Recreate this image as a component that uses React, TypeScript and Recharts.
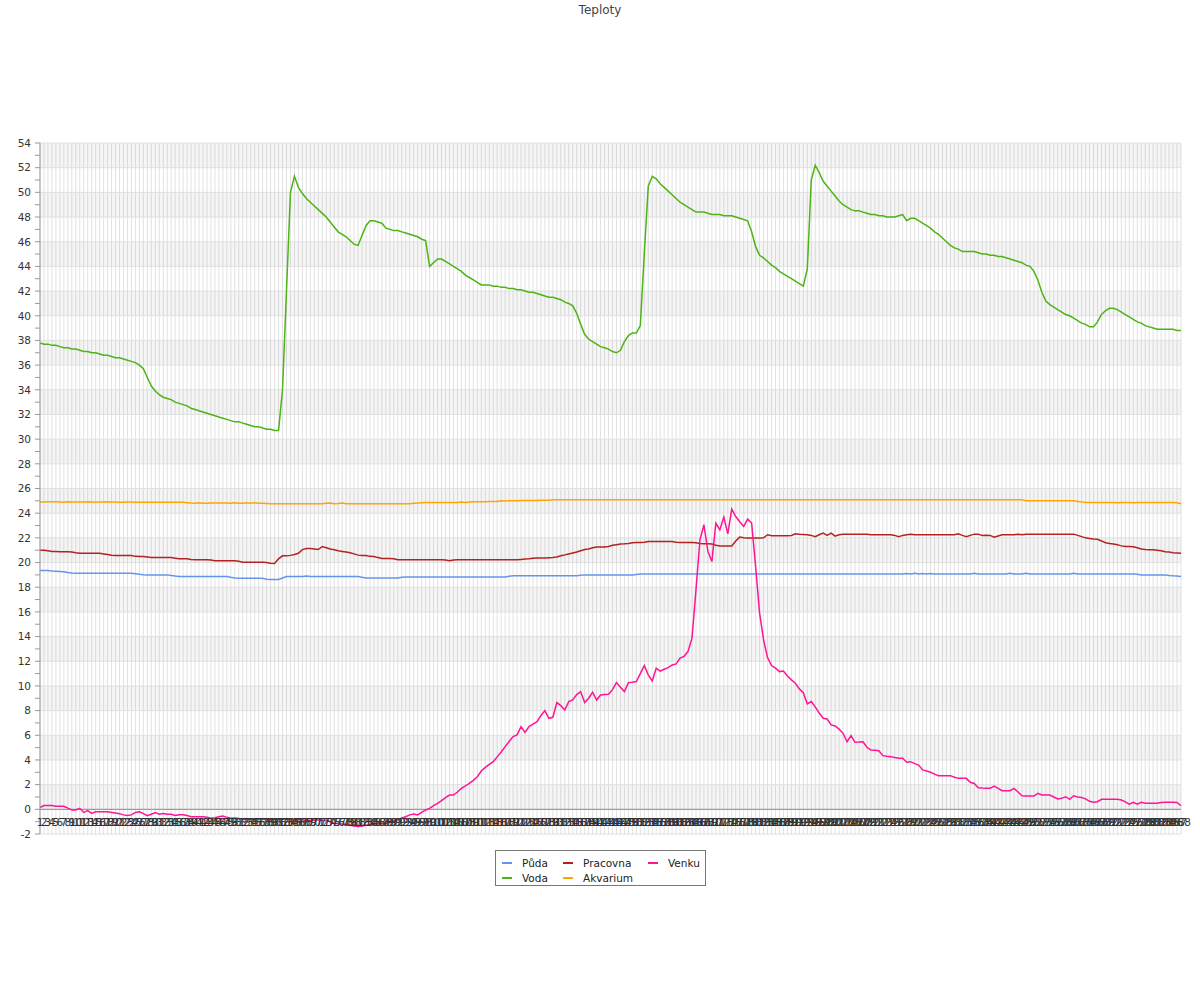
import React from 'react';
import { LineChart, Line, XAxis, YAxis, CartesianGrid, ReferenceArea, ReferenceLine } from 'recharts';

const FONT = '"DejaVu Sans", Verdana, sans-serif';

// 288 samples (every 5 minutes), labelled 1..288
const xLabels = Array.from({ length: 288 }, (_, i) => String(i + 1));

const yTicks = [
  -2, -1, 0, 1, 2, 3, 4, 5, 6, 7, 8, 9, 10, 11, 12, 13, 14, 15, 16, 17, 18, 19, 20, 21, 22, 23, 24, 25, 26, 27, 28,
  29, 30, 31, 32, 33, 34, 35, 36, 37, 38, 39, 40, 41, 42, 43, 44, 45, 46, 47, 48, 49, 50, 51, 52, 53, 54,
];
const gridLevels = [-2, 0, 2, 4, 6, 8, 10, 12, 14, 16, 18, 20, 22, 24, 26, 28, 30, 32, 34, 36, 38, 40, 42, 44, 46, 48, 50, 52, 54];
const shadedBands = [0, 4, 8, 12, 16, 20, 24, 28, 32, 36, 40, 44, 48, 52];

const puda = [
  19.35, 19.35, 19.35, 19.32, 19.3, 19.28, 19.25, 19.2, 19.15, 19.14,
  19.14, 19.14, 19.14, 19.14, 19.14, 19.14, 19.14, 19.14, 19.14, 19.14,
  19.14, 19.14, 19.14, 19.14, 19.1, 19.05, 19.02, 19.0, 19.0, 19.0,
  19.0, 19.0, 19.0, 18.95, 18.9, 18.86, 18.86, 18.86, 18.86, 18.86,
  18.86, 18.86, 18.86, 18.86, 18.86, 18.86, 18.86, 18.86, 18.8, 18.75,
  18.73, 18.73, 18.73, 18.73, 18.73, 18.73, 18.73, 18.65, 18.62, 18.62,
  18.62, 18.75, 18.86, 18.86, 18.86, 18.86, 18.86, 18.9, 18.86, 18.86,
  18.86, 18.86, 18.86, 18.86, 18.86, 18.86, 18.86, 18.86, 18.86, 18.86,
  18.86, 18.8, 18.75, 18.75, 18.75, 18.75, 18.75, 18.75, 18.75, 18.75,
  18.75, 18.8, 18.82, 18.82, 18.82, 18.82, 18.82, 18.82, 18.82, 18.82,
  18.82, 18.82, 18.82, 18.82, 18.82, 18.82, 18.82, 18.82, 18.82, 18.82,
  18.82, 18.82, 18.82, 18.82, 18.82, 18.82, 18.82, 18.82, 18.88, 18.92,
  18.92, 18.92, 18.92, 18.92, 18.92, 18.92, 18.92, 18.92, 18.92, 18.92,
  18.92, 18.92, 18.92, 18.92, 18.92, 18.92, 18.96, 19.0, 19.0, 19.0,
  19.0, 19.0, 19.0, 19.0, 19.0, 19.0, 19.0, 19.0, 19.0, 19.0,
  19.04, 19.08, 19.08, 19.08, 19.08, 19.08, 19.08, 19.08, 19.08, 19.08,
  19.08, 19.08, 19.08, 19.08, 19.08, 19.08, 19.08, 19.08, 19.08, 19.08,
  19.08, 19.08, 19.08, 19.08, 19.08, 19.08, 19.08, 19.08, 19.08, 19.08,
  19.08, 19.08, 19.08, 19.08, 19.08, 19.08, 19.08, 19.08, 19.08, 19.08,
  19.08, 19.08, 19.08, 19.08, 19.08, 19.08, 19.08, 19.08, 19.08, 19.08,
  19.08, 19.08, 19.08, 19.08, 19.08, 19.08, 19.08, 19.08, 19.08, 19.08,
  19.08, 19.08, 19.08, 19.08, 19.08, 19.08, 19.08, 19.08, 19.12, 19.08,
  19.14, 19.08, 19.12, 19.08, 19.12, 19.08, 19.08, 19.08, 19.08, 19.08,
  19.08, 19.08, 19.08, 19.08, 19.08, 19.14, 19.08, 19.08, 19.08, 19.08,
  19.08, 19.08, 19.08, 19.08, 19.14, 19.08, 19.08, 19.08, 19.14, 19.08,
  19.08, 19.08, 19.08, 19.08, 19.08, 19.08, 19.08, 19.08, 19.08, 19.08,
  19.14, 19.08, 19.08, 19.08, 19.08, 19.08, 19.08, 19.08, 19.08, 19.08,
  19.08, 19.08, 19.08, 19.08, 19.08, 19.08, 19.05, 19.0, 19.0, 19.0,
  19.0, 19.0, 19.0, 19.0, 18.95, 18.92, 18.9, 18.86,
];

const voda = [
  37.8, 37.7, 37.7, 37.6, 37.6, 37.5, 37.4, 37.4, 37.3, 37.3,
  37.2, 37.1, 37.1, 37.0, 37.0, 36.9, 36.8, 36.8, 36.7, 36.6,
  36.6, 36.5, 36.4, 36.3, 36.2, 36.0, 35.7, 35.0, 34.3, 33.9,
  33.6, 33.4, 33.3, 33.2, 33.0, 32.9, 32.8, 32.7, 32.5, 32.4,
  32.3, 32.2, 32.1, 32.0, 31.9, 31.8, 31.7, 31.6, 31.5, 31.4,
  31.4, 31.3, 31.2, 31.1, 31.0, 31.0, 30.9, 30.8, 30.8, 30.7,
  30.7, 34.0, 42.0, 50.0, 51.3, 50.4, 49.9, 49.5, 49.2, 48.9,
  48.6, 48.3, 48.0, 47.6, 47.2, 46.8, 46.6, 46.4, 46.1, 45.8,
  45.7, 46.5, 47.3, 47.7, 47.7, 47.6, 47.5, 47.1, 47.0, 46.9,
  46.9, 46.8, 46.7, 46.6, 46.5, 46.4, 46.2, 46.1, 44.0, 44.3,
  44.6, 44.6, 44.4, 44.2, 44.0, 43.8, 43.6, 43.3, 43.1, 42.9,
  42.7, 42.5, 42.5, 42.5, 42.4, 42.4, 42.3, 42.3, 42.2, 42.2,
  42.1, 42.1, 42.0, 41.9, 41.9, 41.8, 41.7, 41.6, 41.5, 41.5,
  41.4, 41.3, 41.1, 41.0, 40.8, 40.2, 39.3, 38.5, 38.1, 37.9,
  37.7, 37.5, 37.4, 37.3, 37.1, 37.0, 37.2, 37.9, 38.4, 38.6,
  38.6, 39.2, 45.0, 50.5, 51.3, 51.1, 50.7, 50.4, 50.1, 49.8,
  49.5, 49.2, 49.0, 48.8, 48.6, 48.4, 48.4, 48.4, 48.3, 48.2,
  48.2, 48.2, 48.1, 48.1, 48.1, 48.0, 47.9, 47.8, 47.7, 46.8,
  45.6, 44.9, 44.7, 44.4, 44.1, 43.9, 43.6, 43.4, 43.2, 43.0,
  42.8, 42.6, 42.4, 43.8, 51.0, 52.2, 51.6, 50.9, 50.5, 50.1,
  49.7, 49.3, 49.0, 48.8, 48.6, 48.5, 48.5, 48.4, 48.3, 48.2,
  48.2, 48.1, 48.1, 48.0, 48.0, 48.0, 48.1, 48.2, 47.7, 47.9,
  47.9, 47.7, 47.5, 47.3, 47.1, 46.8, 46.6, 46.3, 46.0, 45.7,
  45.5, 45.4, 45.2, 45.2, 45.2, 45.2, 45.1, 45.0, 45.0, 44.9,
  44.9, 44.8, 44.8, 44.7, 44.6, 44.5, 44.4, 44.3, 44.1, 44.0,
  43.6, 42.9, 41.9, 41.2, 40.9, 40.7, 40.5, 40.3, 40.1, 40.0,
  39.8, 39.6, 39.4, 39.3, 39.1, 39.1, 39.5, 40.1, 40.4, 40.6,
  40.6, 40.5, 40.3, 40.1, 39.9, 39.7, 39.5, 39.4, 39.2, 39.1,
  39.0, 38.9, 38.9, 38.9, 38.9, 38.9, 38.8, 38.8,
];

const pracovna = [
  21.0, 21.0, 20.95, 20.9, 20.9, 20.87, 20.87, 20.87, 20.85, 20.8,
  20.76, 20.76, 20.76, 20.76, 20.76, 20.75, 20.7, 20.65, 20.6, 20.57,
  20.57, 20.57, 20.57, 20.57, 20.5, 20.49, 20.49, 20.45, 20.4, 20.4,
  20.4, 20.4, 20.4, 20.4, 20.35, 20.3, 20.3, 20.3, 20.25, 20.22,
  20.22, 20.22, 20.22, 20.2, 20.14, 20.14, 20.14, 20.14, 20.14, 20.14,
  20.1, 20.03, 20.03, 20.03, 20.03, 20.03, 20.03, 20.0, 19.95, 19.92,
  20.3, 20.54, 20.54, 20.58, 20.65, 20.75, 21.05, 21.13, 21.13, 21.1,
  21.05, 21.3, 21.2, 21.1, 21.03, 20.95, 20.9, 20.85, 20.8, 20.7,
  20.6, 20.57, 20.57, 20.5, 20.49, 20.4, 20.32, 20.32, 20.32, 20.3,
  20.22, 20.22, 20.22, 20.22, 20.22, 20.22, 20.22, 20.22, 20.22, 20.22,
  20.22, 20.22, 20.2, 20.15, 20.2, 20.22, 20.22, 20.22, 20.22, 20.22,
  20.22, 20.22, 20.22, 20.22, 20.22, 20.22, 20.22, 20.22, 20.22, 20.22,
  20.22, 20.25, 20.28, 20.3, 20.35, 20.36, 20.36, 20.36, 20.38, 20.4,
  20.45, 20.55, 20.62, 20.7, 20.78, 20.85, 20.95, 21.05, 21.1, 21.2,
  21.25, 21.25, 21.25, 21.3, 21.4, 21.45, 21.5, 21.52, 21.55, 21.6,
  21.62, 21.62, 21.65, 21.7, 21.7, 21.7, 21.7, 21.7, 21.7, 21.7,
  21.65, 21.62, 21.62, 21.62, 21.62, 21.6, 21.55, 21.52, 21.52, 21.5,
  21.4, 21.35, 21.35, 21.35, 21.35, 21.75, 22.06, 22.0, 21.98, 21.98,
  21.98, 21.98, 22.0, 22.25, 22.17, 22.17, 22.17, 22.17, 22.17, 22.2,
  22.33, 22.3, 22.28, 22.25, 22.2, 22.1, 22.25, 22.38, 22.2, 22.38,
  22.14, 22.25, 22.3, 22.3, 22.3, 22.3, 22.3, 22.3, 22.3, 22.25,
  22.25, 22.25, 22.25, 22.25, 22.25, 22.2, 22.1, 22.2, 22.25, 22.3,
  22.25, 22.25, 22.25, 22.25, 22.25, 22.25, 22.25, 22.25, 22.25, 22.25,
  22.25, 22.33, 22.2, 22.1, 22.2, 22.3, 22.3, 22.2, 22.22, 22.2,
  22.05, 22.15, 22.25, 22.25, 22.25, 22.25, 22.3, 22.25, 22.3, 22.3,
  22.3, 22.3, 22.3, 22.3, 22.3, 22.3, 22.3, 22.3, 22.3, 22.3,
  22.3, 22.2, 22.1, 22.0, 21.95, 21.9, 21.88, 21.75, 21.6, 21.55,
  21.5, 21.45, 21.35, 21.3, 21.3, 21.28, 21.2, 21.1, 21.05, 21.03,
  21.03, 21.0, 20.95, 20.87, 20.85, 20.8, 20.78, 20.76,
];

const akvarium = [
  24.9, 24.9, 24.92, 24.92, 24.92, 24.9, 24.88, 24.92, 24.9, 24.9,
  24.9, 24.9, 24.92, 24.9, 24.88, 24.9, 24.9, 24.92, 24.9, 24.9,
  24.88, 24.88, 24.9, 24.9, 24.88, 24.88, 24.88, 24.88, 24.88, 24.88,
  24.88, 24.88, 24.88, 24.88, 24.88, 24.88, 24.88, 24.85, 24.82, 24.8,
  24.85, 24.8, 24.8, 24.82, 24.82, 24.82, 24.82, 24.82, 24.8, 24.85,
  24.8, 24.8, 24.85, 24.8, 24.85, 24.8, 24.8, 24.78, 24.76, 24.76,
  24.76, 24.76, 24.76, 24.76, 24.76, 24.76, 24.76, 24.76, 24.76, 24.76,
  24.76, 24.76, 24.8, 24.82, 24.76, 24.78, 24.82, 24.76, 24.76, 24.76,
  24.76, 24.76, 24.76, 24.76, 24.76, 24.76, 24.76, 24.76, 24.76, 24.76,
  24.76, 24.76, 24.76, 24.76, 24.8, 24.82, 24.85, 24.87, 24.87, 24.87,
  24.87, 24.87, 24.87, 24.87, 24.87, 24.87, 24.9, 24.87, 24.9, 24.92,
  24.92, 24.92, 24.92, 24.95, 24.95, 24.95, 25.0, 24.98, 25.0, 25.0,
  25.0, 25.02, 25.02, 25.02, 25.02, 25.02, 25.05, 25.05, 25.05, 25.08,
  25.08, 25.08, 25.08, 25.08, 25.08, 25.08, 25.08, 25.08, 25.08, 25.08,
  25.08, 25.08, 25.08, 25.08, 25.08, 25.08, 25.08, 25.08, 25.08, 25.08,
  25.08, 25.08, 25.08, 25.08, 25.08, 25.08, 25.08, 25.08, 25.08, 25.08,
  25.08, 25.08, 25.08, 25.08, 25.08, 25.08, 25.08, 25.08, 25.08, 25.08,
  25.08, 25.08, 25.08, 25.08, 25.08, 25.08, 25.08, 25.08, 25.08, 25.08,
  25.08, 25.08, 25.08, 25.08, 25.08, 25.08, 25.08, 25.08, 25.08, 25.08,
  25.08, 25.08, 25.08, 25.08, 25.08, 25.08, 25.08, 25.08, 25.08, 25.08,
  25.08, 25.08, 25.08, 25.08, 25.08, 25.08, 25.08, 25.08, 25.08, 25.08,
  25.08, 25.08, 25.08, 25.08, 25.08, 25.08, 25.08, 25.08, 25.08, 25.08,
  25.08, 25.08, 25.08, 25.08, 25.08, 25.08, 25.08, 25.08, 25.08, 25.08,
  25.08, 25.08, 25.08, 25.08, 25.08, 25.08, 25.08, 25.08, 25.08, 25.08,
  25.08, 25.08, 25.08, 25.08, 25.08, 25.08, 25.08, 25.08, 25.0, 25.0,
  25.0, 25.0, 25.0, 25.0, 25.0, 25.0, 25.0, 25.0, 25.0, 25.0,
  25.0, 24.95, 24.9, 24.88, 24.87, 24.87, 24.87, 24.87, 24.87, 24.87,
  24.87, 24.85, 24.87, 24.87, 24.87, 24.85, 24.87, 24.87, 24.87, 24.87,
  24.87, 24.87, 24.87, 24.87, 24.87, 24.87, 24.85, 24.76,
];

const venku = [
  0.15, 0.3, 0.3, 0.3, 0.25, 0.25, 0.25, 0.1, -0.05, -0.05,
  0.08, -0.25, -0.1, -0.33, -0.2, -0.2, -0.2, -0.2, -0.25, -0.3,
  -0.35, -0.45, -0.5, -0.45, -0.25, -0.2, -0.35, -0.52, -0.4, -0.27,
  -0.4, -0.33, -0.4, -0.4, -0.5, -0.45, -0.45, -0.5, -0.6, -0.6,
  -0.6, -0.6, -0.65, -0.73, -0.68, -0.6, -0.54, -0.65, -0.73, -0.7,
  -0.75, -0.8, -0.85, -0.8, -0.85, -0.8, -0.8, -0.85, -0.85, -0.8,
  -0.85, -0.8, -0.8, -0.85, -0.87, -0.8, -0.85, -0.9, -0.9, -0.87,
  -0.87, -0.9, -0.9, -1.0, -1.14, -1.15, -1.2, -1.25, -1.3, -1.35,
  -1.4, -1.35, -1.3, -1.25, -1.2, -1.15, -1.15, -1.14, -1.05, -0.95,
  -0.85, -0.7, -0.6, -0.45, -0.38, -0.46, -0.25, -0.05, 0.08, 0.3,
  0.49, 0.7, 0.95, 1.16, 1.16, 1.4, 1.7, 1.9, 2.1, 2.35,
  2.64, 3.1, 3.4, 3.65, 3.86, 4.25, 4.65, 5.08, 5.5, 5.89,
  6.03, 6.7, 6.24, 6.7, 6.9, 7.1, 7.6, 8.0, 7.38, 7.46,
  8.65, 8.4, 8.05, 8.73, 8.86, 9.3, 9.54, 8.65, 9.0, 9.49,
  8.86, 9.27, 9.3, 9.33, 9.7, 10.27, 9.9, 9.54, 10.27, 10.3,
  10.35, 11.0, 11.65, 10.9, 10.4, 11.44, 11.2, 11.35, 11.48, 11.7,
  11.78, 12.25, 12.4, 12.8, 13.87, 17.78, 21.84, 23.06, 20.9, 20.08,
  23.2, 22.65, 23.68, 22.33, 24.33, 23.73, 23.3, 22.92, 23.52, 23.2,
  19.68, 15.9, 13.73, 12.3, 11.65, 11.44, 11.16, 11.2, 10.8, 10.49,
  10.22, 9.76, 9.45, 8.54, 8.73, 8.3, 7.8, 7.38, 7.32, 6.84,
  6.76, 6.5, 6.16, 5.48, 5.97, 5.43, 5.45, 5.48, 5.03, 4.81,
  4.78, 4.75, 4.35, 4.3, 4.27, 4.2, 4.14, 4.14, 3.81, 3.86,
  3.7, 3.59, 3.19, 3.1, 3.0, 2.85, 2.73, 2.73, 2.73, 2.73,
  2.6, 2.51, 2.51, 2.51, 2.19, 2.1, 1.75, 1.72, 1.7, 1.7,
  1.89, 1.7, 1.51, 1.51, 1.51, 1.7, 1.4, 1.1, 1.08, 1.08,
  1.08, 1.3, 1.16, 1.16, 1.16, 1.0, 0.84, 0.89, 1.02, 0.81,
  1.1, 1.0, 0.95, 0.85, 0.65, 0.57, 0.62, 0.81, 0.81, 0.81,
  0.81, 0.81, 0.75, 0.6, 0.41, 0.57, 0.41, 0.57, 0.5, 0.49,
  0.49, 0.49, 0.55, 0.57, 0.57, 0.57, 0.55, 0.29,
];

// drawing order matches the legend (column-wise)
const series = [
  { key: 'puda', name: 'Půda', color: '#6495ed' },
  { key: 'voda', name: 'Voda', color: '#4cb414' },
  { key: 'pracovna', name: 'Pracovna', color: '#b22222' },
  { key: 'akvarium', name: 'Akvarium', color: '#ffa500' },
  { key: 'venku', name: 'Venku', color: '#ff1493' },
];

const data = xLabels.map((label, i) => ({
  label,
  puda: puda[i],
  voda: voda[i],
  pracovna: pracovna[i],
  akvarium: akvarium[i],
  venku: venku[i],
}));

const YTick = (props: any) => {
  const { x, y, payload } = props;
  if (payload.value % 2 !== 0) return <g />;
  return (
    <text x={x} y={y} dy={3.8} textAnchor="end" fontSize={10.5} fill="#333" fontFamily={FONT}>
      {payload.value}
    </text>
  );
};

// labels sit just under the zero line, not under the -2 edge
const XTick = (props: any) => {
  const { x, y, payload } = props;
  return (
    <text x={x} y={y - 8.5} textAnchor="middle" fontSize={10.5} fill="#333" fontFamily={FONT}>
      {payload.value}
    </text>
  );
};

const legendItems = [
  { name: 'Půda', color: '#6495ed', left: 6, top: 5 },
  { name: 'Pracovna', color: '#b22222', left: 67, top: 5 },
  { name: 'Venku', color: '#ff1493', left: 152, top: 5 },
  { name: 'Voda', color: '#4cb414', left: 6, top: 20 },
  { name: 'Akvarium', color: '#ffa500', left: 67, top: 20 },
];

const App: React.FC = () => {
  return (
    <div style={{ position: 'absolute', left: 0, top: 0, width: 1200, height: 1000, background: '#fff', fontFamily: FONT }}>
      <div style={{ position: 'absolute', top: 3, left: 0, width: 1200, textAlign: 'center', fontSize: 12, color: '#444' }}>
        Teploty
      </div>
      <LineChart width={1200} height={1000} data={data} margin={{ top: 143, right: 19, bottom: 146, left: 0 }}>
        {shadedBands.map((lo) => (
          <ReferenceArea key={`band-${lo}`} y1={lo} y2={lo + 2} fill="#000" fillOpacity={0.04} stroke="none" />
        ))}
        <CartesianGrid horizontal={false} stroke="#e2e2e2" />
        {gridLevels.map((v) => (
          <ReferenceLine key={`h-${v}`} y={v} stroke="#e0e0e0" />
        ))}
        <ReferenceLine y={0} stroke="#8c8c8c" />
        <XAxis
          dataKey="label"
          interval={0}
          tickSize={0}
          tickMargin={0}
          axisLine={false}
          tickLine={false}
          height={20}
          tick={<XTick />}
        />
        <YAxis
          type="number"
          domain={[-2, 54]}
          ticks={yTicks}
          interval={0}
          width={40}
          tickSize={5}
          tickMargin={4}
          axisLine={{ stroke: '#999' }}
          tickLine={{ stroke: '#999' }}
          tick={<YTick />}
          allowDataOverflow
        />
        {series.map((s) => (
          <Line
            key={s.key}
            type="linear"
            dataKey={s.key}
            name={s.name}
            stroke={s.color}
            strokeWidth={1.5}
            dot={false}
            isAnimationActive={false}
          />
        ))}
      </LineChart>
      <div
        style={{
          position: 'absolute',
          left: 495,
          top: 850,
          width: 209,
          height: 34,
          border: '1px solid #777',
          background: '#fff',
          fontSize: 10.5,
          color: '#222',
        }}
      >
        {legendItems.map((item) => (
          <div key={item.name} style={{ position: 'absolute', left: item.left, top: item.top, display: 'flex', alignItems: 'center', height: 13 }}>
            <span style={{ display: 'inline-block', width: 10, height: 2, background: item.color, marginRight: 10 }} />
            <span>{item.name}</span>
          </div>
        ))}
      </div>
    </div>
  );
};

export default App;
